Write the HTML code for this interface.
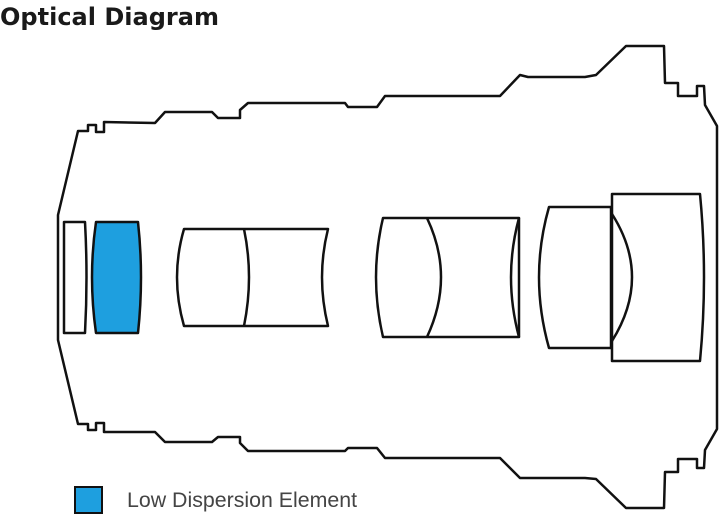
<!DOCTYPE html>
<html><head><meta charset="utf-8"><style>
html,body{margin:0;padding:0;background:#fff;width:720px;height:515px;overflow:hidden}
svg{position:absolute;left:0;top:0}
</style></head><body>
<svg width="720" height="515" viewBox="0 0 720 515" xmlns="http://www.w3.org/2000/svg">
<text x="0" y="25" font-family="DejaVu Sans, sans-serif" font-weight="bold" font-size="24" fill="#1a1a1a" textLength="219" lengthAdjust="spacingAndGlyphs">Optical Diagram</text>
<g fill="none" stroke="#111" stroke-width="2.5" stroke-linejoin="round">
<path d="M78,131 L88,131 L88,125 L96,125 L96,132 L104,132 L104,122 L155,123 L165,112 L212,112 L218,118 L240,118 L240,110 L248,103 L345,103 L348,107 L377,107 L385,96 L500,96 L520,75 L528,77 L585,77 L596,75 L626,46 L664,46 L665,83 L678,83 L678,96 L697,96 L697,86 L704,86 L705,105 L717,126 L717,429 L705,450 L704,468 L697,468 L697,459 L678,459 L678,472 L665,472 L664,508 L626,508 L596,479 L585,478 L528,478 L520,478 L500,458 L385,458 L377,448 L348,448 L345,451 L248,451 L240,443 L240,437 L218,437 L212,442 L165,442 L155,432 L104,432 L104,423 L96,423 L96,430 L88,430 L88,424 L78,424 L58,340 L58,215 Z"/>
<path d="M64,222 L85,222 Q88,277 85,333 L64,333 Z"/>
<path d="M96,222 L138,222 Q144,277 138,333 L96,333 Q88,277 96,222 Z" fill="#1e9fdf"/>
<path d="M184,229 L328,229 Q316,277 328,326 L184,326 Q170,277 184,229 Z"/>
<path d="M244,229 Q254,277 244,326"/>
<path d="M383,218 L519,218 L519,337 L383,337 Q369,277 383,218 Z"/>
<path d="M427,218 Q455,277 427,337"/>
<path d="M519,218 Q503,277 519,337"/>
<path d="M549,207 L611,207 L611,348 L549,348 Q529,277 549,207 Z"/>
<path d="M612,194 L700,194 Q708,277 700,361 L612,361 Z"/>
<path d="M612,214 Q652,277 612,341"/>
</g>
<rect x="75" y="487" width="27" height="26" fill="#1e9fdf" stroke="#111" stroke-width="2"/>
<text x="127" y="507" font-family="Liberation Sans, sans-serif" font-size="21" fill="#444" textLength="230" lengthAdjust="spacingAndGlyphs">Low Dispersion Element</text>
</svg>
</body></html>
